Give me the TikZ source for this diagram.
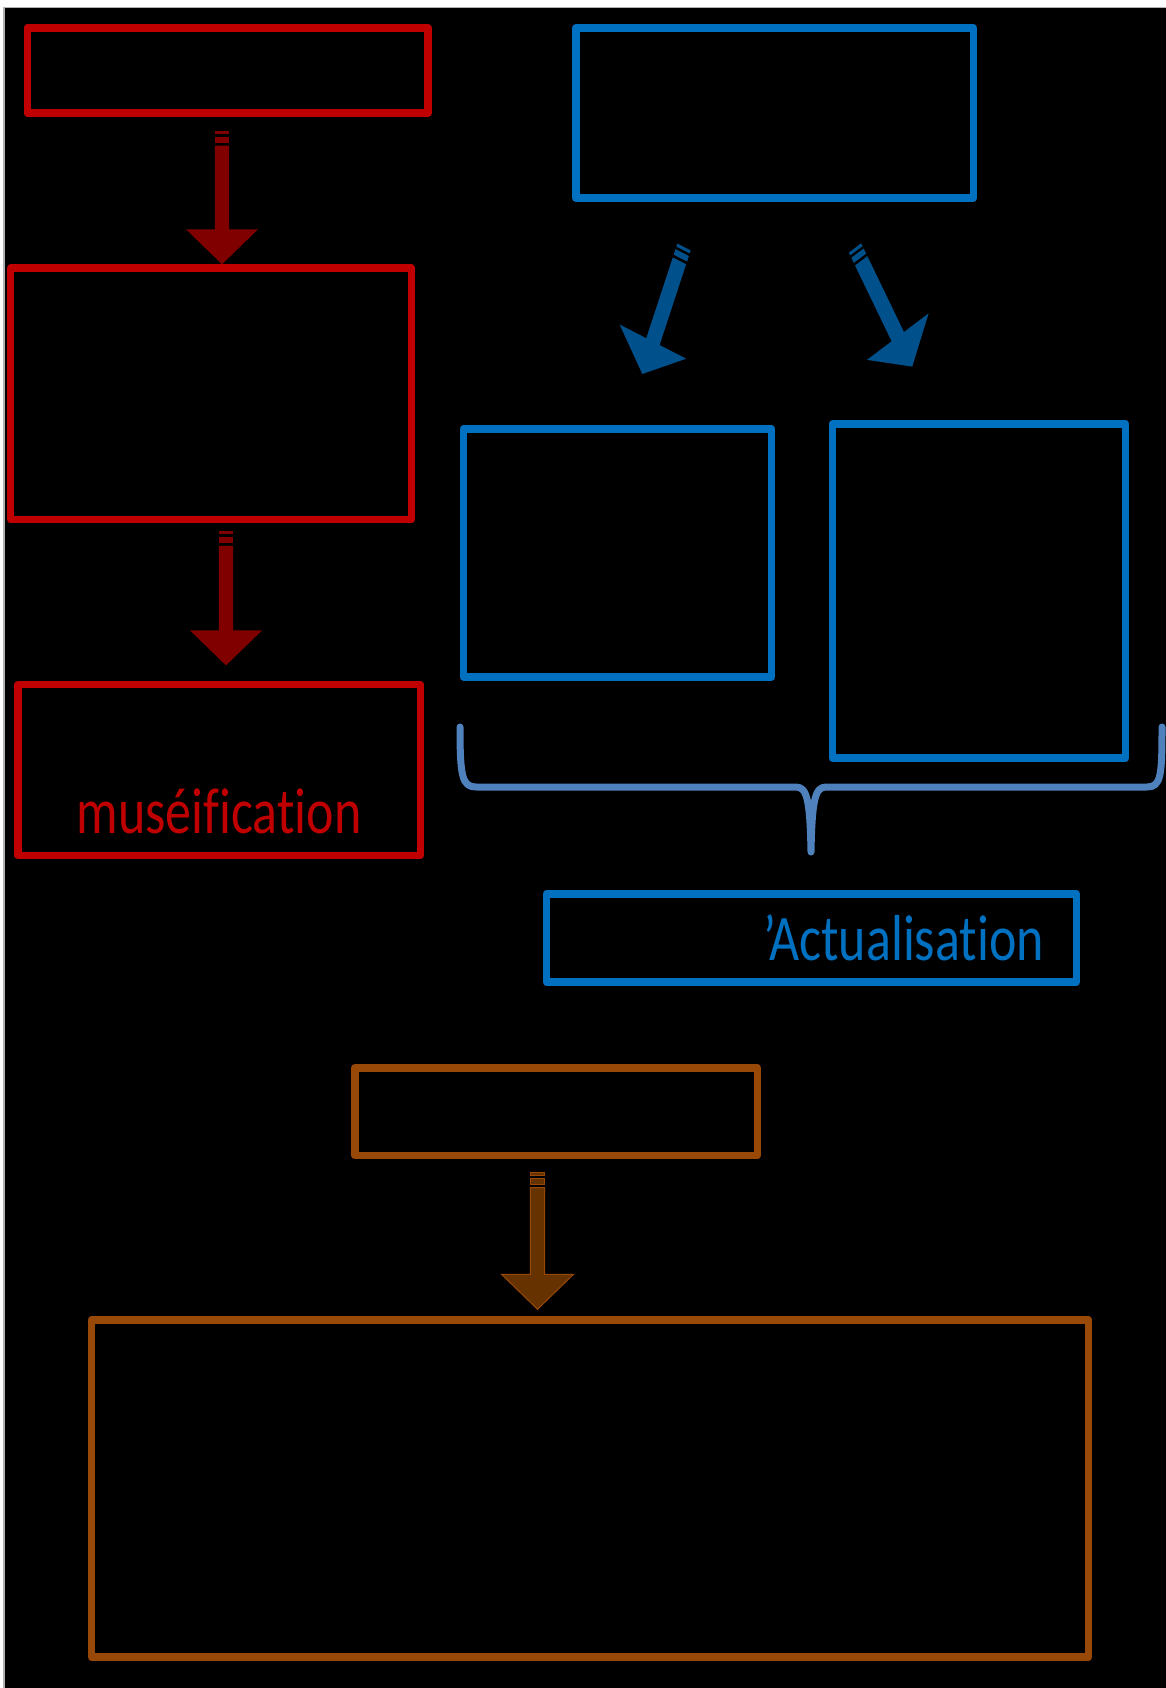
\documentclass[tikz,border=0pt]{standalone}
\usepackage{fontspec}
\newfontfamily\slidefont[Ligatures={NoCommon,NoContextual}]{Carlito}
\usepackage{tikz}
\usetikzlibrary{calc}
\definecolor{redborder}{RGB}{192,0,0}
\definecolor{redarrow}{RGB}{128,0,0}
\definecolor{blueborder}{RGB}{0,112,192}
\definecolor{bluearrow}{RGB}{0,80,140}
\definecolor{brownborder}{RGB}{152,72,7}
\definecolor{brownarrow}{RGB}{102,51,0}
\definecolor{bracecolor}{RGB}{79,129,189}

% striped block arrow: style, tail, tip (slide is stretched 1.25 in height)
\newcommand{\stripedarrow}[3]{%
    \path (#2); \pgfgetlastxy{\sax}{\say}
    \path (#3); \pgfgetlastxy{\sbx}{\sby}
    \pgfmathsetmacro\saang{atan2((\sby-\say)/1.25,\sbx-\sax)}
    \pgfmathsetmacro\salen{veclen(\sbx-\sax,(\sby-\say)/1.25)}
    \begin{scope}[shift={(#2)}, yscale=1.25, rotate=\saang]
        \path[#1] (0,-7.2) rectangle (2.6,7.2);
        \path[#1] (4.8,-7.2) rectangle (9.6,7.2);
        \path[#1] (12,-7.2) -- (\salen-28,-7.2) -- (\salen-28,-36) -- (\salen,0)
            -- (\salen-28,36) -- (\salen-28,7.2) -- (12,7.2) -- cycle;
    \end{scope}
}

\begin{document}
\begin{tikzpicture}[
    x=1pt, y=-1pt,
    slidebox/.style={
        rectangle,
        line width=7.5pt,
        line join=round,
        inner sep=0pt
    },
    redbox/.style={slidebox, draw=redborder},
    bluebox/.style={slidebox, draw=blueborder},
    brownbox/.style={slidebox, draw=brownborder},
    redfill/.style={fill=redarrow},
    bluefill/.style={fill=bluearrow},
    brownfill/.style={fill=brownarrow, draw=brownborder, line width=1pt},
    slidetext/.style={font=\slidefont\fontsize{65}{70}\selectfont, inner sep=0pt}
]

%% BACKGROUND %%
\fill[white] (0,0) rectangle (1165,1688);
\useasboundingbox (0,0) rectangle (1165,1688);
\filldraw[fill=black, draw=gray!60, line width=1.5pt] (4,7.5) rectangle (1180,1700);

%% LEFT SIDE - red column %%
\node (red_top) [redbox, minimum width=400.7pt, minimum height=85.2pt] at (227.7,70.4) {};
\node (red_mid) [redbox, minimum width=400.6pt, minimum height=251.5pt] at (211,393.8) {};
\node (red_low) [redbox, minimum width=402.5pt, minimum height=171pt] at (219,770) {};
\node (musei_label) [slidetext, text=redborder, anchor=base] at (219,833)
    {\scalebox{0.8}[1]{muséification}};

%% RIGHT SIDE - blue column %%
\node (blue_top) [bluebox, minimum width=397.4pt, minimum height=170.2pt] at (774.6,112.9) {};
\node (blue_left) [bluebox, minimum width=308pt, minimum height=247.7pt] at (617.5,552.9) {};
\node (blue_right) [bluebox, minimum width=293.3pt, minimum height=334pt] at (979,591) {};
\node (blue_result) [bluebox, minimum width=529.9pt, minimum height=88.2pt] at (811.4,937.9) {};
\node (actu_label) [slidetext, text=blueborder, anchor=base east] at (1044,960)
    {\scalebox{0.8}[1]{’Actualisation}};

%% BOTTOM - brown pair %%
\node (brown_top) [brownbox, minimum width=402.5pt, minimum height=87.7pt] at (556,1111.7) {};
\node (brown_low) [brownbox, minimum width=997.2pt, minimum height=337.2pt] at (590.1,1488.4) {};

%% ARROW ENDS %%
\coordinate (red_a1) at (222,130.7);
\coordinate (red_a2) at (226,530.8);
\coordinate (red_a2tip) at (226,665.4);
\coordinate (blue_a1) at (684,247);
\coordinate (blue_a1tip) at (642.3,374);
\coordinate (blue_a2) at (855,248);
\coordinate (blue_a2tip) at (912.3,366.7);
\coordinate (brown_a) at (537.5,1172.7);
\coordinate (brown_atip) at (537.5,1309.3);

%% ARROWS %%
\stripedarrow{redfill}{red_a1}{red_a1 |- red_mid.north}
\stripedarrow{redfill}{red_a2}{red_a2tip}
\stripedarrow{bluefill}{blue_a1}{blue_a1tip}
\stripedarrow{bluefill}{blue_a2}{blue_a2tip}
\stripedarrow{brownfill}{brown_a}{brown_atip}

%% BRACE %%
\draw[bracecolor, line width=7pt, line cap=round, line join=round]
    (460,727) .. controls (460,776) and (462,787) .. (476,787) -- (796,787)
    .. controls (807,787) and (810,800) .. (811,852)
    .. controls (812,800) and (815,787) .. (826,787) -- (1147,787)
    .. controls (1161,787) and (1162,776) .. (1162,727);

\end{tikzpicture}
\end{document}
